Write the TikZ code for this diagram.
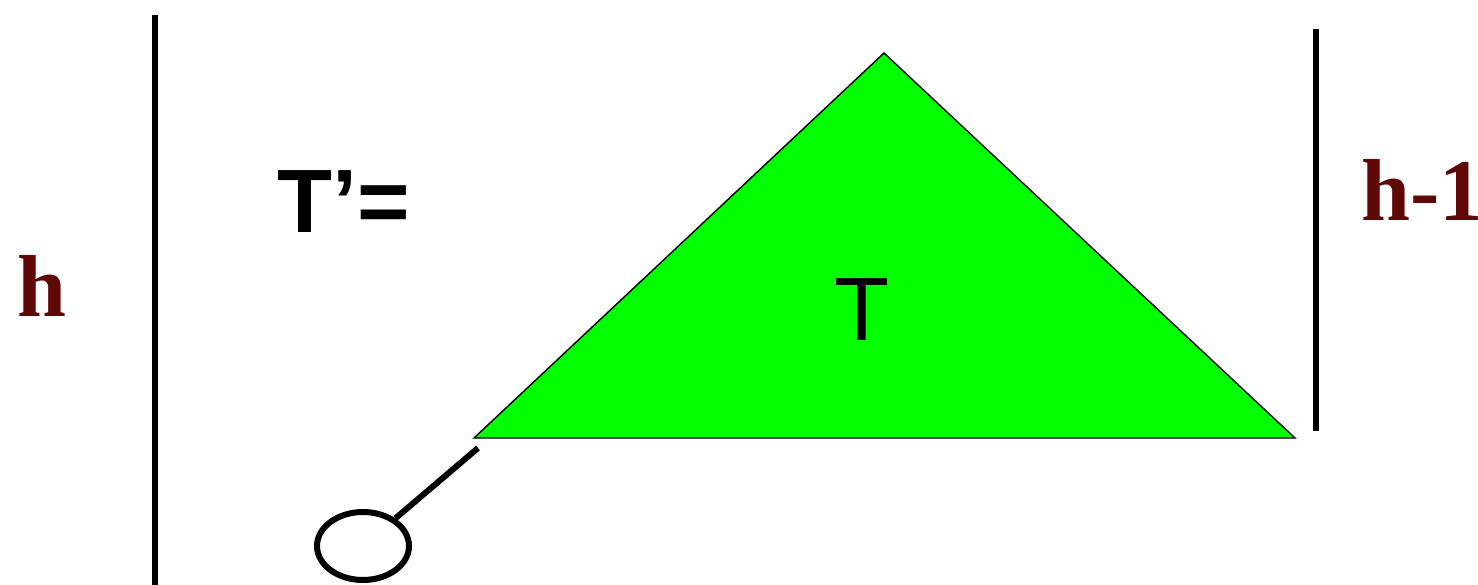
\documentclass[tikz,border=0pt]{standalone}
\usepackage{fontspec}
\usetikzlibrary{shapes.geometric}
\setmainfont{Liberation Serif}
\setsansfont{Liberation Sans}
\definecolor{darkred}{RGB}{94,8,8}
\definecolor{brightgreen}{RGB}{0,255,0}
\begin{document}
\begin{tikzpicture}[x=1pt,y=-1pt,
  bigserif/.style={font=\fontsize{88}{100}\selectfont\rmfamily\bfseries, text=darkred, inner sep=0pt},
  bigsans/.style={font=\fontsize{90}{100}\selectfont\sffamily\bfseries, inner sep=0pt},
  tlabel/.style={font=\fontsize{90}{100}\selectfont\sffamily, inner sep=0pt},
  heightbar/.style={line width=5.5pt},
  stick/.style={line width=6pt}]
\useasboundingbox (0,0) rectangle (1478,585);
% height bars
\coordinate (l1) at (155,15);
\coordinate (l2) at (155,585);
\coordinate (r1) at (1316,29);
\coordinate (r2) at (1316,431);
\draw[heightbar] (l1) -- (l2);
\draw[heightbar] (r1) -- (r2);
% triangle
\coordinate (apex) at (884,53);
\coordinate (bl) at (474,438);
\coordinate (br) at (1295,438);
\draw[fill=brightgreen, line width=1.4pt, line join=miter] (apex) -- (br) -- (bl) -- cycle;
\node[tlabel, anchor=base] (t) at (862,341) {T};
% labels
\node[bigserif, anchor=base] (h) at (42,317) {h};
\node[bigserif, anchor=base west] (hm) at (1361,221) {h-1};
\node[bigsans, anchor=base west] (tp) at (277,233) {T’=};
% stick and circle
\coordinate (s) at (478,448);
\node[draw, ellipse, line width=6pt, minimum width=92pt, minimum height=68pt, inner sep=0pt] (c) at (363,546) {};
\draw[stick] (s) -- (c);
\end{tikzpicture}
\end{document}
